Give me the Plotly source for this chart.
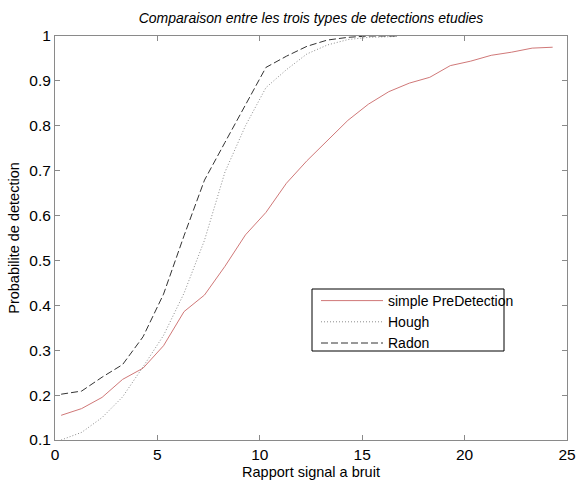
import plotly.graph_objects as go

snr = [0.3, 1.3, 2.3, 3.3, 4.3, 5.3, 6.3, 7.3, 8.3, 9.3, 10.3, 11.3, 12.3,
       13.3, 14.3, 15.3, 16.3, 17.3, 18.3, 19.3, 20.3, 21.3, 22.3, 23.3, 24.3]
simple_pre = [0.155, 0.170, 0.195, 0.235, 0.260, 0.310, 0.386, 0.423, 0.487,
              0.557, 0.607, 0.672, 0.722, 0.767, 0.812, 0.848, 0.876, 0.895,
              0.908, 0.934, 0.944, 0.957, 0.964, 0.973, 0.975]

snr_hr = [0.3, 1.3, 2.3, 3.3, 4.3, 5.3, 6.3, 7.3, 8.3, 9.3, 10.3, 11.3, 12.3,
          13.3, 14.3, 15.3, 16.7]
hough = [0.100, 0.117, 0.150, 0.196, 0.263, 0.333, 0.427, 0.545, 0.697,
         0.800, 0.885, 0.925, 0.960, 0.980, 0.992, 0.997, 0.999]
radon = [0.202, 0.209, 0.240, 0.268, 0.330, 0.425, 0.555, 0.679, 0.763,
         0.847, 0.930, 0.955, 0.977, 0.991, 0.997, 1.000, 1.000]

x_ticks = [0, 5, 10, 15, 20, 25]
y_ticks = [0.1, 0.2, 0.3, 0.4, 0.5, 0.6, 0.7, 0.8, 0.9, 1.0]
y_tick_labels = ["0.1", "0.2", "0.3", "0.4", "0.5", "0.6", "0.7", "0.8", "0.9", "1"]

fig = go.Figure()
fig.add_trace(go.Scatter(x=snr, y=simple_pre, mode="lines", name="simple PreDetection",
                         line=dict(color="#d07878", width=1)))
fig.add_trace(go.Scatter(x=snr_hr, y=hough, mode="lines", name="Hough",
                         line=dict(color="#8c8c8c", width=1, dash="1px,2px")))
fig.add_trace(go.Scatter(x=snr_hr, y=radon, mode="lines", name="Radon",
                         line=dict(color="#333333", width=1, dash="7px,3px")))

font_family = "Liberation Sans, Arial, sans-serif"
axis_common = dict(
    showgrid=False, zeroline=False, showline=True, linecolor="#8a8a8a", linewidth=1,
    mirror="ticks", ticks="inside", ticklen=5, tickcolor="#8a8a8a", tickwidth=1,
    tickfont=dict(family=font_family, size=15.5, color="black"), automargin=False,
)

L, R, T, B = 55, 19, 36, 40
W, H = 586, 480
pw, ph = W - L - R, H - T - B

def px_x(p):
    return (p - L) / pw

def px_y(p):
    return (H - B - p) / ph

fig.update_layout(
    width=W, height=H,
    margin=dict(l=L, r=R, t=T, b=B),
    paper_bgcolor="white", plot_bgcolor="white",
    title=dict(text="<i>Comparaison entre les trois types de detections etudies</i>",
               font=dict(family=font_family, size=14, color="black"),
               x=0.5, xref="paper", y=1 - 18 / H, yanchor="middle"),
    xaxis=dict(range=[0, 25], tickvals=x_ticks, **axis_common,
               title=dict(text="Rapport signal a bruit", standoff=7,
                          font=dict(family=font_family, size=14.5, color="black"))),
    yaxis=dict(range=[0.1, 1.0], tickvals=y_ticks, ticktext=y_tick_labels, **axis_common,
               title=dict(text="Probabilite de detection", standoff=6,
                          font=dict(family=font_family, size=14.5, color="black"))),
    legend=dict(x=px_x(316), y=px_y(285), xanchor="left", yanchor="top",
                bgcolor="rgba(0,0,0,0)", borderwidth=0, itemwidth=62,
                font=dict(family=font_family, size=14, color="black"),
                tracegroupgap=0),
    shapes=[dict(type="rect", xref="paper", yref="paper",
                 x0=px_x(312), x1=px_x(504), y0=px_y(351), y1=px_y(289),
                 line=dict(color="black", width=1), fillcolor="rgba(0,0,0,0)", layer="below")],
)

fig.write_html("out.html")
